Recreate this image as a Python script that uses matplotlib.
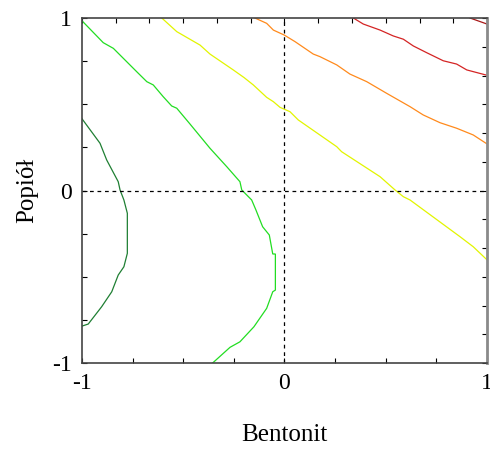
import matplotlib
matplotlib.use("Agg")
import matplotlib.pyplot as plt
from matplotlib.ticker import MultipleLocator, FixedLocator

# Contour lines of the response surface (Bentonit, Popiół), coded units
dark_green_x = [-1.0, -0.911, -0.878, -0.821, -0.812, -0.793, -0.776, -0.776,
                -0.793, -0.821, -0.853, -0.903, -0.969, -1.0]
dark_green_y = [0.416, 0.274, 0.177, 0.051, 0.003, -0.055, -0.132, -0.364,
                -0.442, -0.490, -0.587, -0.674, -0.774, -0.786]

green_x = [-1.0, -0.895, -0.845, -0.730, -0.680, -0.648, -0.599, -0.557, -0.532,
           -0.467, -0.368, -0.285, -0.220, -0.211, -0.162, -0.141, -0.108, -0.075,
           -0.058, -0.045, -0.045, -0.058, -0.088, -0.151, -0.220, -0.269, -0.355]
green_y = [0.984, 0.857, 0.824, 0.689, 0.631, 0.612, 0.544, 0.490, 0.477,
           0.386, 0.245, 0.138, 0.051, 0.003, -0.055, -0.113, -0.210, -0.258,
           -0.368, -0.368, -0.577, -0.587, -0.683, -0.790, -0.877, -0.909, -1.0]

yellow_x = [-0.606, -0.532, -0.417, -0.368, -0.253, -0.200, -0.154, -0.088,
            -0.055, -0.022, 0.027, 0.068, 0.258, 0.282, 0.472, 0.546, 0.587,
            0.620, 0.867, 0.932, 1.0]
yellow_y = [1.0, 0.921, 0.843, 0.791, 0.699, 0.655, 0.612, 0.540,
            0.515, 0.482, 0.457, 0.409, 0.254, 0.225, 0.080, 0.003, -0.036,
            -0.055, -0.268, -0.326, -0.402]

orange_x = [-0.146, -0.088, -0.055, -0.001, 0.052, 0.142, 0.175, 0.258, 0.323,
            0.406, 0.505, 0.620, 0.685, 0.768, 0.850, 0.932, 1.0]
orange_y = [1.0, 0.969, 0.930, 0.901, 0.863, 0.791, 0.776, 0.728, 0.675,
            0.631, 0.563, 0.486, 0.438, 0.393, 0.361, 0.322, 0.270]

red_x = [0.340, 0.389, 0.472, 0.537, 0.587, 0.636, 0.702, 0.784, 0.850, 0.900, 1.0]
red_y = [1.0, 0.965, 0.930, 0.896, 0.877, 0.838, 0.799, 0.752, 0.733, 0.699, 0.668]

dark_red_x = [0.916, 1.0]
dark_red_y = [1.0, 0.965]

curves = [
    (dark_green_x, dark_green_y, "#1f7f33"),
    (green_x, green_y, "#22dd22"),
    (yellow_x, yellow_y, "#e2f500"),
    (orange_x, orange_y, "#ff8a1c"),
    (red_x, red_y, "#d42424"),
    (dark_red_x, dark_red_y, "#a81818"),
]

plt.rcParams["font.family"] = ["Liberation Serif", "DejaVu Serif"]

fig = plt.figure(figsize=(4.9, 4.5), dpi=100)
ax = fig.add_axes([0.1673, 0.1933, 0.8266, 0.7667])

for xs, ys, c in curves:
    ax.plot(xs, ys, color=c, lw=0.9, solid_joinstyle="miter")

ax.axvline(0, color="black", lw=0.9, ls=(0, (3, 3)))
ax.axhline(0, color="black", lw=0.9, ls=(0, (3, 3)))

ax.set_xlim(-1, 1)
ax.set_ylim(-1, 1)

ax.xaxis.set_major_locator(FixedLocator([-1, 0, 1]))
ax.yaxis.set_major_locator(FixedLocator([-1, 0, 1]))
ax.set_xticklabels(["-1", "0", "1"])
ax.set_yticklabels(["-1", "0", "1"])
ax.xaxis.set_minor_locator(MultipleLocator(0.25))
ax.yaxis.set_minor_locator(MultipleLocator(0.25))
ax.tick_params(which="both", direction="in", length=3.5, width=0.8,
               labelsize=17, pad=7)

# Finer ticks along the top and right edges
top = ax.secondary_xaxis("top")
top.xaxis.set_major_locator(MultipleLocator(1 / 6))
top.xaxis.set_tick_params(which="both", direction="in", length=3.5,
                          width=0.8, labeltop=False)
top.spines["top"].set_visible(False)
right = ax.secondary_yaxis("right")
right.yaxis.set_major_locator(MultipleLocator(1 / 6))
right.yaxis.set_tick_params(which="both", direction="in", length=3.5,
                            width=0.8, labelright=False)
right.spines["right"].set_visible(False)

for s in ["left", "bottom", "top"]:
    ax.spines[s].set_color("#444444")
    ax.spines[s].set_linewidth(1.2)
ax.spines["right"].set_color("#8a8a8a")
ax.spines["right"].set_linewidth(2.0)

ax.set_xlabel("Bentonit", fontsize=18, labelpad=22)
ax.set_ylabel("Popiół", fontsize=18, labelpad=10)

fig.savefig("out.png", dpi=100)
